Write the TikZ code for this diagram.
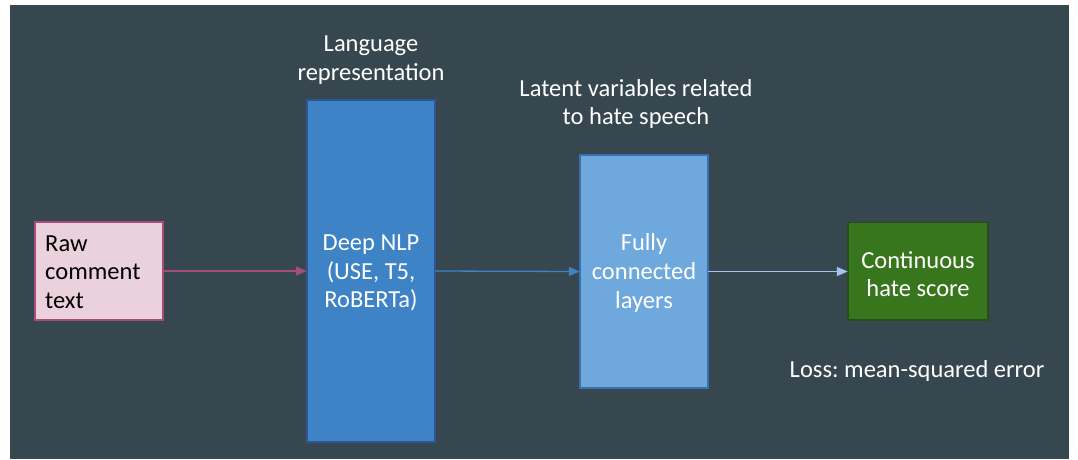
\documentclass[tikz,border=0pt]{standalone}
\usepackage{fontspec}
\setmainfont{Carlito}
\frenchspacing
\usetikzlibrary{arrows.meta}
\definecolor{bg}{HTML}{37474F}
\definecolor{pinkfill}{HTML}{EAD1DC}
\definecolor{pinkline}{HTML}{A64D79}
\definecolor{bluefill}{HTML}{3D83C6}
\definecolor{blueline}{HTML}{2F5597}
\definecolor{lbluefill}{HTML}{6FA8DC}
\definecolor{lblueline}{HTML}{3C6EB4}
\definecolor{greenfill}{HTML}{38761D}
\definecolor{greenline}{HTML}{274E13}
\definecolor{arrowthree}{HTML}{A4C2F4}
\tikzset{
  labeltext/.style={text=white, align=center, font=\fontsize{24.5}{28.7}\selectfont, inner sep=0pt},
  conn/.style={line width=1.3pt, -{Triangle[length=11pt,width=9pt]}},
}
\begin{document}
\begin{tikzpicture}[x=1pt,y=-1pt]
\useasboundingbox (0,0) rectangle (1078,459);
\fill[white] (0,0) rectangle (1078,459);
\fill[bg] (10,5) rectangle (1069,459);
% boxes
\draw[pinkline, fill=pinkfill, line width=1.5pt] (35,222) rectangle (163,320);
\node[minimum width=128pt, minimum height=98pt, inner sep=0pt] (raw) at (99,271) {};
\node[anchor=west, align=left, text=black, font=\fontsize{24.5}{28.7}\selectfont, inner sep=0pt] (rawtext) at (45,272) {Raw\\comment\\text};
\draw[blueline, fill=bluefill, line width=1.5pt] (307,100) rectangle (435,442);
\node[minimum width=128pt, minimum height=342pt, inner sep=0pt] (nlp) at (371,271) {};
\node[labeltext] (nlptext) at (371,273) {Deep NLP\\(USE, T5,\\RoBERTa)};
\draw[lblueline, fill=lbluefill, line width=1.5pt] (580,155) rectangle (708,388);
\node[minimum width=128pt, minimum height=233pt, inner sep=0pt] (fc) at (644,271.5) {};
\node[labeltext] (fctext) at (644,273) {Fully\\connected\\layers};
\draw[greenline, fill=greenfill, line width=1.5pt] (848,222.5) rectangle (988,320);
\node[minimum width=140pt, minimum height=97.5pt, inner sep=0pt] (score) at (918,271.5) {};
\node[labeltext] (scoretext) at (918,274) {Continuous\\hate score};
% titles
\node[labeltext] (langlabel) at (371,60) {Language\\representation};
\node[labeltext] (latentlabel) at (636,104) {Latent variables related\\to hate speech};
\node[labeltext] (losslabel) at (917,371) {Loss: mean-squared error};
% connectors
\draw[conn, pinkline] (raw.east) -- (nlp.west);
\draw[conn, bluefill] (nlp.east) -- (fc.west);
\draw[conn, arrowthree] (fc.east) -- (score.west);
\end{tikzpicture}
\end{document}
